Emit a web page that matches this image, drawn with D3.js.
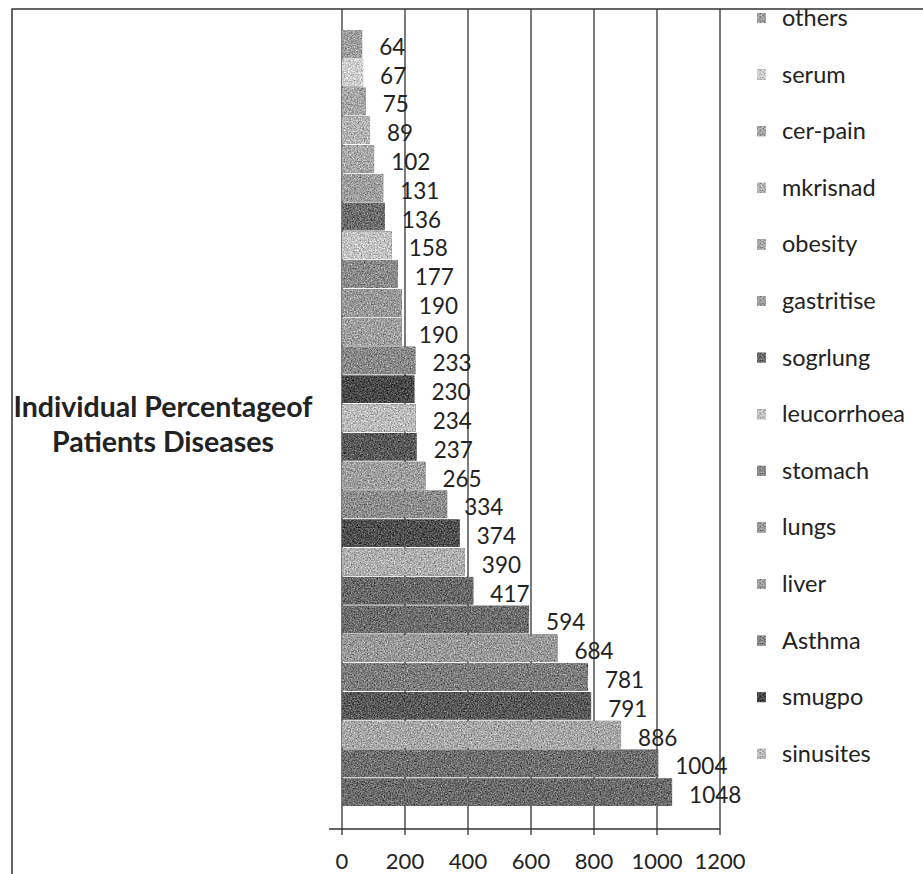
<!DOCTYPE html>
<html>
<head>
<meta charset="utf-8">
<script src="https://cdn.jsdelivr.net/npm/d3@7"></script>
<style>
  body { margin: 0; background: #fff; }
  text { font-family: Lato, "Open Sans", sans-serif; fill: #222; }
</style>
</head>
<body>
<div class="chartContainer"></div>
<script>
const WIDTH = 923;
const HEIGHT = 874;

// bar values, top to bottom
var values = [64, 67, 75, 89, 102, 131, 136, 158, 177, 190, 190, 233, 230, 234,
              237, 265, 334, 374, 390, 417, 594, 684, 781, 791, 886, 1004, 1048];
// legend names (only the first 14 categories are listed in the legend)
var legendNames = ["others", "serum", "cer-pain", "mkrisnad", "obesity", "gastritise",
                   "sogrlung", "leucorrhoea", "stomach", "lungs", "liver", "Asthma",
                   "smugpo", "sinusites"];
var xTicks = [0, 200, 400, 600, 800, 1000, 1200];
var titleLines = ["Individual Percentageof", "Patients Diseases"];

// grey shades of the bars, same order as values
var shades = ["#a0a0a0", "#d0d0d0", "#a8a8a8", "#b4b4b4", "#aaaaaa", "#a0a0a0", "#6e6e6e",
              "#c4c4c4", "#8c8c8c", "#9a9a9a", "#a0a0a0", "#8a8a8a", "#4a4a4a", "#bdbdbd",
              "#5a5a5a", "#a0a0a0", "#8e8e8e", "#505050", "#b0b0b0", "#6a6a6a", "#6e6e6e",
              "#9a9a9a", "#7e7e7e", "#5a5a5a", "#a8a8a8", "#707070", "#6c6c6c"];

var xScale = d3.scaleLinear().domain([0, 1200]).range([342, 720]);
var yScale = d3.scaleBand().domain(d3.range(values.length)).range([30, 806]).paddingInner(0.04);

var svg = d3.select(".chartContainer").append("svg")
    .attr("width", WIDTH)
    .attr("height", HEIGHT);

// scanned speckle texture
var filter = svg.append("defs").append("filter")
    .attr("id", "grain")
    .attr("x", 0).attr("y", 0).attr("width", "100%").attr("height", "100%")
    .attr("color-interpolation-filters", "sRGB");
filter.append("feTurbulence")
    .attr("type", "fractalNoise").attr("baseFrequency", 0.7)
    .attr("numOctaves", 2).attr("seed", 4).attr("result", "noise");
filter.append("feColorMatrix")
    .attr("in", "noise").attr("type", "matrix")
    .attr("values", "0.33 0.33 0.33 0 0  0.33 0.33 0.33 0 0  0.33 0.33 0.33 0 0  0 0 0 0 1")
    .attr("result", "grey");
filter.append("feComposite")
    .attr("in", "SourceGraphic").attr("in2", "grey")
    .attr("operator", "arithmetic")
    .attr("k1", 0).attr("k2", 1).attr("k3", 1.3).attr("k4", -0.65)
    .attr("result", "mixed");
filter.append("feComposite")
    .attr("in", "mixed").attr("in2", "SourceGraphic").attr("operator", "in");

// outer frame
svg.append("path")
    .attr("d", "M12,874 L12,9 L923,9")
    .attr("fill", "none")
    .attr("stroke", "#333")
    .attr("stroke-width", 1.5);

// vertical gridlines + ticks
svg.selectAll(".grid")
    .data(xTicks)
    .enter()
    .append("line")
    .classed("grid", true)
    .attr("x1", function(d) { return xScale(d); })
    .attr("x2", function(d) { return xScale(d); })
    .attr("y1", 9)
    .attr("y2", 835)
    .attr("stroke", "#333")
    .attr("stroke-width", 1.3);

// axis line
svg.append("line")
    .attr("x1", 329).attr("x2", xScale(1200))
    .attr("y1", 829).attr("y2", 829)
    .attr("stroke", "#333")
    .attr("stroke-width", 1.3);

svg.selectAll(".tickLabel")
    .data(xTicks)
    .enter()
    .append("text")
    .classed("tickLabel", true)
    .attr("x", function(d) { return xScale(d); })
    .attr("y", 869)
    .attr("text-anchor", "middle")
    .style("font-size", "22px")
    .text(function(d) { return d; });

// bars
svg.selectAll(".bar")
    .data(values)
    .enter()
    .append("rect")
    .classed("bar", true)
    .attr("x", xScale(0))
    .attr("y", function(d, i) { return yScale(i); })
    .attr("width", function(d) { return xScale(d) - xScale(0); })
    .attr("height", yScale.bandwidth())
    .attr("fill", function(d, i) { return shades[i]; })
    .attr("filter", "url(#grain)");

// value labels
svg.selectAll(".valLabel")
    .data(values)
    .enter()
    .append("text")
    .classed("valLabel", true)
    .attr("x", function(d) { return xScale(d) + 17; })
    .attr("y", function(d, i) { return yScale(i) + yScale.bandwidth() / 2 + 11; })
    .style("font-size", "22.5px")
    .text(function(d) { return d; });

// legend
var legend = svg.selectAll(".legendItem")
    .data(legendNames)
    .enter()
    .append("g")
    .classed("legendItem", true)
    .attr("transform", function(d, i) { return "translate(757," + (18 + i * 56.6) + ")"; });

legend.append("rect")
    .attr("x", 0).attr("y", -5)
    .attr("width", 9).attr("height", 10)
    .attr("fill", function(d, i) { return shades[i]; })
    .attr("filter", "url(#grain)");

legend.append("text")
    .attr("x", 25)
    .attr("y", 8)
    .style("font-size", "23.5px")
    .text(function(d) { return d; });

// title on the left
svg.selectAll(".title")
    .data(titleLines)
    .enter()
    .append("text")
    .classed("title", true)
    .attr("x", 163)
    .attr("y", function(d, i) { return 417 + i * 35; })
    .attr("text-anchor", "middle")
    .style("font-size", "28.5px")
    .style("font-weight", "bold")
    .text(function(d) { return d; });
</script>
</body>
</html>
